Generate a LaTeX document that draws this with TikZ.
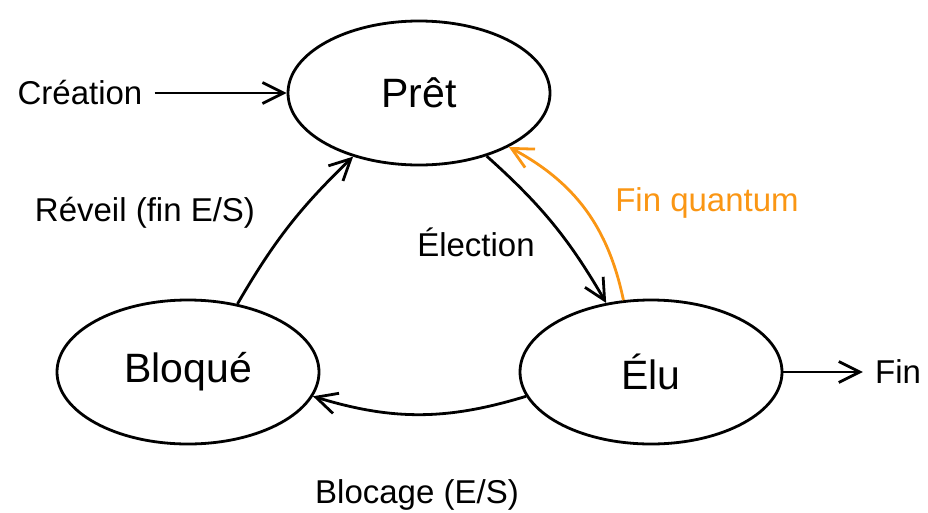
\documentclass[tikz,border=0pt]{standalone}
\usepackage{fontspec}
\setmainfont{Liberation Sans}
\usetikzlibrary{shapes.geometric,arrows.meta}
\definecolor{quantum}{RGB}{250,150,20}
\begin{document}
\begin{tikzpicture}[x=1pt,y=-1pt,
  state/.style={draw,line width=2.8pt,ellipse,minimum width=262pt,minimum height=144pt,inner sep=0pt,
    font=\fontsize{41}{48}\selectfont},
  elabel/.style={font=\fontsize{33}{40}\selectfont,inner sep=0pt},
  ext/.style={font=\fontsize{33}{40}\selectfont,inner sep=12pt},
  trans/.style={line width=2.8pt,-{Straight Barb[length=21pt,width=21pt,line width=2.8pt]}}]
\useasboundingbox (0,0) rectangle (928,512);

% states
\node[state] (pret) at (419,93) {Prêt};
\node[state] (bloque) at (188,372) {Bloqué};
\node[state] (elu) at (651,372) {Élu};

% entry and exit
\node[ext] (creation) at (80,93) {Création};
\node[ext] (fin) at (898,372) {Fin};
\draw[trans] (creation.east) -- (pret.west);
\draw[trans] (elu.east) -- (fin.west);

% transitions
\draw[trans] (bloque.54) to[bend left=8] (pret.-136);
\draw[trans] (pret.-43) to[bend left=9] (elu.123);
\draw[trans,quantum] (elu.111) to[bend right=25] (pret.-31);
\draw[trans] (elu.191) to[bend left=17] (bloque.-11);

% transition labels
\node[elabel] (lreveil) at (145,213) {Réveil (fin E/S)};
\node[elabel] (lelection) at (476,242) {Élection};
\node[elabel,text=quantum] (lquantum) at (707,203) {Fin quantum};
\node[elabel] (lblocage) at (417,495) {Blocage (E/S)};
\end{tikzpicture}
\end{document}
